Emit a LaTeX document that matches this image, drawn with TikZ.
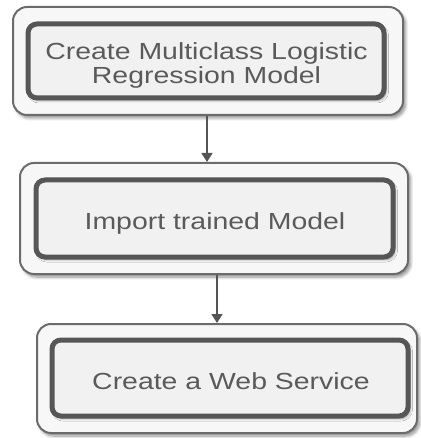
\documentclass[tikz,border=0pt]{standalone}
\usepackage{fontspec}
\setmainfont[FakeStretch=1.22]{Liberation Sans}
\usetikzlibrary{arrows.meta,shadows.blur}

\definecolor{outerline}{HTML}{6B6B6B}
\definecolor{outerfill}{HTML}{F7F7F7}
\definecolor{innerline}{HTML}{565656}
\definecolor{innerfill}{HTML}{F1F1F1}
\definecolor{textgray}{HTML}{5A5A5A}
\definecolor{arrowgray}{HTML}{555555}

\tikzset{
  outerbox/.style={draw=outerline, fill=outerfill, line width=2pt,
    rounded corners=14pt, inner sep=0pt,
    blur shadow={shadow xshift=2.5pt, shadow yshift=-3pt,
      shadow blur radius=3pt, shadow blur steps=6, shadow opacity=45}},
  innerbox/.style={draw=innerline, fill=innerfill, line width=5pt,
    rounded corners=9pt, inner sep=0pt,
    blur shadow={shadow xshift=2pt, shadow yshift=-2.5pt,
      shadow blur radius=2.5pt, shadow blur steps=5, shadow opacity=40}},
  steptext/.style={text=textgray, inner sep=0pt, anchor=base,
    font=\fontsize{23.3}{23.3}\selectfont},
  flowarrow/.style={draw=arrowgray, line width=1.6pt,
    -{Triangle[length=9pt,width=11pt]}}
}

\begin{document}
\begin{tikzpicture}[x=1pt,y=-1pt]
  \useasboundingbox (0,0) rectangle (420,438);

  % step 1
  \node[outerbox, minimum width=390pt, minimum height=108pt] (o1) at (208,61) {};
  \node[innerbox, minimum width=356pt, minimum height=74pt] (i1) at (206,61) {};
  \node[steptext] (t1a) at (206.5,60) {Create Multiclass Logistic};
  \node[steptext] (t1b) at (206.5,83.3) {Regression Model};

  % step 2
  \node[outerbox, minimum width=388pt, minimum height=111pt] (o2) at (214,218.5) {};
  \node[innerbox, minimum width=357pt, minimum height=77pt] (i2) at (214.5,218.5) {};
  \node[steptext] (t2) at (215,229.5) {Import trained Model};

  % step 3
  \node[outerbox, minimum width=380pt, minimum height=109pt] (o3) at (227,378.5) {};
  \node[innerbox, minimum width=356pt, minimum height=76pt] (i3) at (230,378) {};
  \node[steptext] (t3) at (231,389) {Create a Web Service};

  % connectors
  \draw[flowarrow] ([xshift=-1pt]o1.south) -- ([xshift=-1pt]o1.south |- o2.north);
  \draw[flowarrow] ([xshift=3pt]o2.south) -- ([xshift=3pt]o2.south |- o3.north);
\end{tikzpicture}
\end{document}
